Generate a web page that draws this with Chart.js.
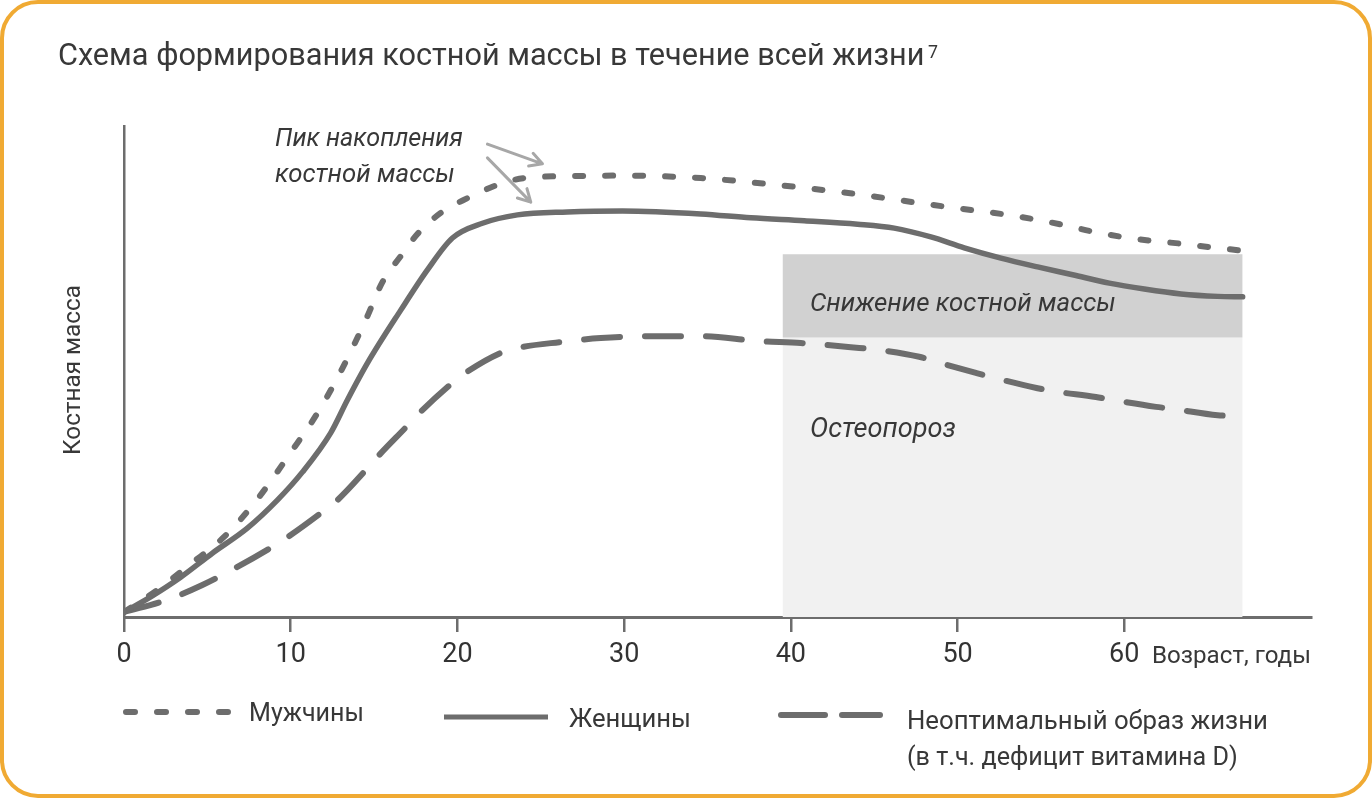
<!DOCTYPE html>
<html lang="ru">
<head>
<meta charset="utf-8">
<script src="https://cdn.jsdelivr.net/npm/chart.js@4/dist/chart.umd.min.js"></script>
<style>
  html, body { margin: 0; padding: 0; background: #fff; }
  body { width: 1372px; height: 798px; position: relative; overflow: hidden; font-family: Roboto, "Open Sans", sans-serif; color: #383838; }
  #frame { position: absolute; left: 0; top: 0; width: 1372px; height: 798px; box-sizing: border-box; border: 4px solid #F0AA33; border-radius: 38px; }
  #cv { position: absolute; left: 0; top: 0; }
  .t { position: absolute; white-space: nowrap; line-height: 1; }
  .i { font-style: italic; }
  svg { position: absolute; left: 0; top: 0; }
</style>
</head>
<body>
<div id="frame"></div>
<canvas id="cv" width="1372" height="798"></canvas>

<div class="t" data-x="58" data-base="65" data-w="867" data-size="30">Схема формирования костной массы в течение всей жизни</div>
<div class="t" data-x="928" data-base="58" data-w="10" data-size="18">7</div>

<div class="t i" data-x="275" data-base="146" data-w="188" data-size="25">Пик накопления</div>
<div class="t i" data-x="275" data-base="182" data-w="180" data-size="25">костной массы</div>
<div class="t i" data-x="810" data-base="311" data-w="306" data-size="25">Снижение костной массы</div>
<div class="t i" data-x="810" data-base="437" data-w="146" data-size="25">Остеопороз</div>

<div class="t" data-x="1152" data-base="663" data-w="159" data-size="25">Возраст, годы</div>

<div class="t" data-x="249" data-base="721" data-w="115" data-size="24">Мужчины</div>
<div class="t" data-x="569" data-base="727" data-w="122" data-size="24">Женщины</div>
<div class="t" data-x="907" data-base="729" data-w="361" data-size="24">Неоптимальный образ жизни</div>
<div class="t" data-x="907" data-base="765" data-w="331" data-size="24">(в т.ч. дефицит витамина D)</div>

<div class="t" id="ylab" data-w="170" data-size="24">Костная масса</div>

<svg width="1372" height="798">
  <line x1="126" y1="712" x2="228" y2="712" stroke="#6d6d6d" stroke-width="6" stroke-linecap="round" stroke-dasharray="9 22"/>
  <line x1="444" y1="717" x2="548" y2="717" stroke="#6d6d6d" stroke-width="5"/>
  <line x1="781" y1="715" x2="825" y2="715" stroke="#6d6d6d" stroke-width="6" stroke-linecap="round"/>
  <line x1="842" y1="715" x2="880" y2="715" stroke="#6d6d6d" stroke-width="6" stroke-linecap="round"/>
</svg>

<script>
// ---------- data ----------
const xTicks = [0, 10, 20, 30, 40, 50, 60];

const menAge  = [0, 2.0, 4.0, 6.0, 8.0, 10.0, 11.6, 13.0, 14.5, 15.5, 16.6, 17.6, 19.0, 20.6, 22.4, 24.0, 27.0, 30.0, 34.6, 38.0, 40.3, 42.1, 43.8, 45.5, 47.3, 49.2, 51.0, 52.8, 54.6, 56.4, 58.1, 59.9, 61.7, 63.5, 65.2, 67.1];
const menMass = [1.0, 5.5, 10.8, 16.3, 24.0, 33.5, 41.5, 50.0, 60.5, 68.2, 73.5, 78.0, 82.3, 85.3, 88.0, 89.4, 89.8, 89.9, 89.4, 88.4, 87.6, 86.9, 86.2, 85.4, 84.5, 83.6, 82.8, 82.0, 81.0, 79.8, 78.5, 77.4, 76.6, 76.0, 75.3, 74.6];

const womenAge  = [0, 1.6, 3.4, 5.3, 7.4, 9.2, 10.7, 12.4, 13.4, 14.6, 16.6, 18.2, 19.7, 21.5, 23.6, 26.6, 29.9, 34.6, 37.6, 40.8, 44.0, 46.2, 48.4, 50.4, 52.6, 54.8, 56.9, 59.1, 61.2, 63.4, 65.6, 67.1];
const womenMass = [1.0, 4.1, 8.1, 13.0, 18.1, 23.8, 29.5, 37.5, 44.2, 51.7, 62.5, 70.7, 77.2, 80.2, 81.9, 82.5, 82.7, 82.1, 81.3, 80.7, 80.0, 79.2, 77.4, 75.2, 73.1, 71.3, 69.7, 68.0, 66.8, 65.8, 65.3, 65.2];

const poorAge  = [0, 2.6, 4.7, 6.8, 8.9, 10.0, 11.9, 12.8, 14.5, 15.2, 16.9, 17.8, 19.6, 20.3, 22.6, 23.6, 26.2, 28.6, 31.6, 34.6, 38.0, 40.6, 44.1, 45.3, 47.7, 48.8, 51.1, 52.2, 54.8, 55.7, 58.3, 59.3, 61.9, 62.9, 65.6, 67.1];
const poorMass = [1.0, 3.5, 6.5, 10.2, 14.3, 16.7, 21.4, 23.8, 29.9, 32.6, 38.6, 41.8, 47.4, 49.3, 53.8, 54.8, 56.0, 56.8, 57.2, 57.2, 56.2, 55.8, 54.8, 54.4, 53.0, 51.9, 49.7, 48.7, 46.6, 46.0, 44.8, 44.2, 42.8, 42.4, 41.1, 40.9];

const zoneAge = [39.5, 67.1];           // shaded zone, from / to (years)
const declineLevels = [73.9, 56.9];     // "Снижение костной массы" band: top / bottom
const osteoTop = 56.9;                  // "Остеопороз" band top (to axis)

const arrowTail = [[21.8, 96.3], [21.8, 93.5]];
const arrowTip  = [[25.1, 92.3], [24.4, 84.5]];

// ---------- helpers ----------
const pts = (xs, ys) => xs.map((x, i) => ({ x: x, y: ys[i] }));
const LINE = '#6d6d6d';

const arrowPlugin = {
  id: 'arrows',
  afterDatasetsDraw(chart) {
    const { ctx, scales: { x, y } } = chart;
    ctx.save();
    ctx.strokeStyle = '#a7a7a7';
    ctx.lineWidth = 3;
    ctx.lineCap = 'round';
    ctx.lineJoin = 'round';
    arrowTail.forEach((t, i) => {
      const x0 = x.getPixelForValue(t[0]), y0 = y.getPixelForValue(t[1]);
      const x1 = x.getPixelForValue(arrowTip[i][0]), y1 = y.getPixelForValue(arrowTip[i][1]);
      const a = Math.atan2(y1 - y0, x1 - x0), L = 14, s = 0.5;
      ctx.beginPath();
      ctx.moveTo(x0, y0); ctx.lineTo(x1, y1);
      ctx.moveTo(x1 - L * Math.cos(a - s), y1 - L * Math.sin(a - s));
      ctx.lineTo(x1, y1);
      ctx.lineTo(x1 - L * Math.cos(a + s), y1 - L * Math.sin(a + s));
      ctx.stroke();
    });
    ctx.restore();
  }
};

new Chart(document.getElementById('cv'), {
  type: 'line',
  data: {
    datasets: [
      { label: 'Мужчины', data: pts(menAge, menMass), borderColor: LINE, borderWidth: 6, borderDash: [8, 22], borderCapStyle: 'round', pointRadius: 0, cubicInterpolationMode: 'monotone', fill: false, order: 0 },
      { label: 'Женщины', data: pts(womenAge, womenMass), borderColor: LINE, borderWidth: 5.5, borderCapStyle: 'round', pointRadius: 0, cubicInterpolationMode: 'monotone', fill: false, order: 0 },
      { label: 'Неоптимальный образ жизни', data: pts(poorAge, poorMass), borderColor: LINE, borderWidth: 6, borderDash: [36, 25], borderCapStyle: 'round', pointRadius: 0, cubicInterpolationMode: 'monotone', fill: false, order: 0 },
      { label: 'Снижение костной массы', data: pts(zoneAge, [declineLevels[0], declineLevels[0]]), borderWidth: 0, borderColor: 'rgba(0,0,0,0)', backgroundColor: '#d1d1d1', pointRadius: 0, fill: { value: declineLevels[1] }, order: 10 },
      { label: 'Остеопороз', data: pts(zoneAge, [osteoTop, osteoTop]), borderWidth: 0, borderColor: 'rgba(0,0,0,0)', backgroundColor: '#f1f1f1', pointRadius: 0, fill: 'start', order: 11 }
    ]
  },
  options: {
    responsive: false,
    animation: false,
    devicePixelRatio: 1,
    events: [],
    layout: { padding: { left: 124, top: 126, right: 61, bottom: 131 } },
    plugins: { legend: { display: false }, tooltip: { enabled: false }, filler: { drawTime: 'beforeDatasetsDraw' } },
    scales: {
      x: {
        type: 'linear', min: 0, max: 71.2,
        afterBuildTicks: a => { a.ticks = xTicks.map(v => ({ value: v })); },
        afterFit: a => { a.height = 50; },
        ticks: { font: { family: 'Roboto', size: 27 }, color: '#333', padding: 7, maxRotation: 0, autoSkip: false },
        grid: { drawOnChartArea: false, drawTicks: true, tickLength: 15, color: LINE, lineWidth: 2.5 },
        border: { color: LINE, width: 3 }
      },
      y: {
        min: 0, max: 100,
        afterFit: a => { a.width = 0; },
        ticks: { display: false },
        grid: { display: false, drawTicks: false },
        border: { color: LINE, width: 2.5 }
      }
    }
  },
  plugins: [arrowPlugin]
});

// ---------- text layout ----------
function baselineOf(el) {
  const m = document.createElement('span');
  m.style.cssText = 'display:inline-block;width:0;height:0;vertical-align:baseline';
  el.appendChild(m);
  const b = m.offsetTop;
  el.removeChild(m);
  return b;
}
function layoutTexts() {
  document.querySelectorAll('.t').forEach(el => {
    const size = +el.dataset.size, w = +el.dataset.w;
    el.style.transform = 'none';
    el.style.fontSize = size + 'px';
    el.style.left = '0px'; el.style.top = '0px';
    const mw = el.getBoundingClientRect().width;
    el.style.fontSize = (size * w / mw) + 'px';
    const b = baselineOf(el);
    if (el.id === 'ylab') {
      el.style.transformOrigin = '0 0';
      el.style.left = (80 - b) + 'px';
      el.style.top = '455px';
      el.style.transform = 'rotate(-90deg)';
    } else {
      el.style.left = el.dataset.x + 'px';
      el.style.top = (+el.dataset.base - b) + 'px';
    }
  });
}
layoutTexts();
if (document.fonts && document.fonts.ready) document.fonts.ready.then(layoutTexts);
</script>
</body>
</html>
